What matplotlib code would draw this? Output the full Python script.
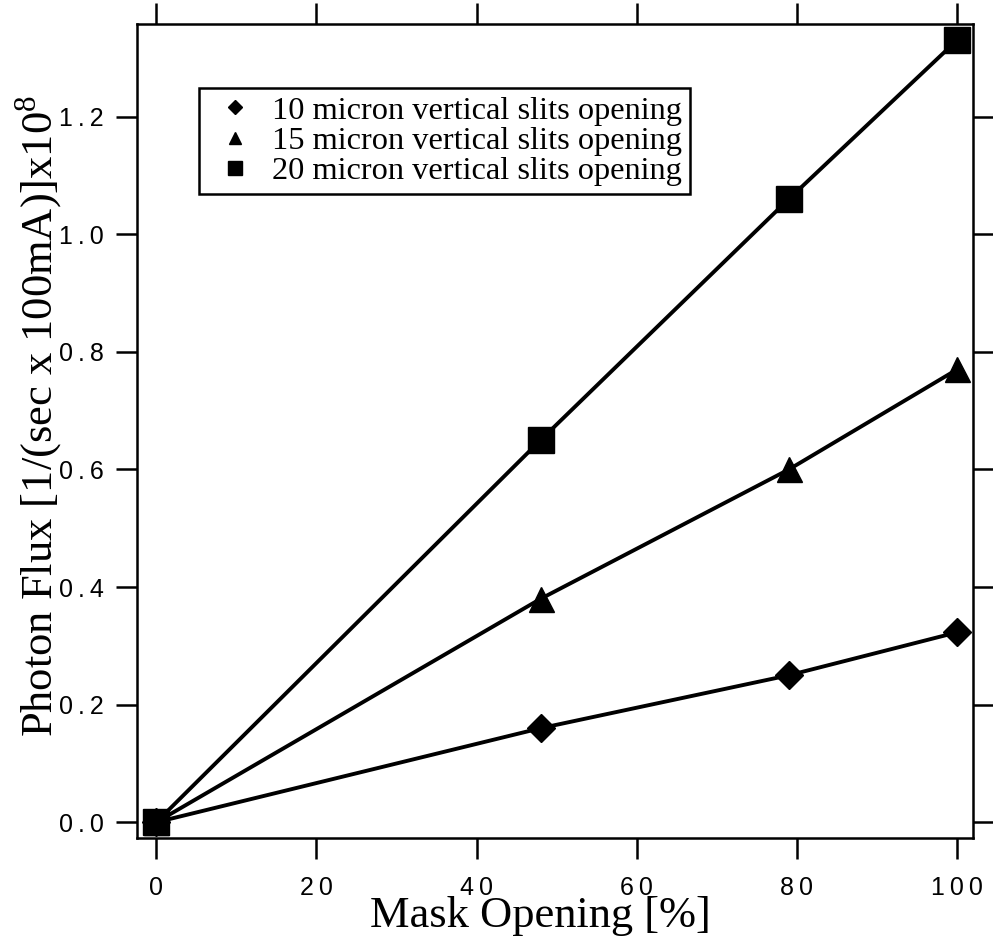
import matplotlib
matplotlib.use("Agg")
import matplotlib.pyplot as plt
from matplotlib.ticker import FuncFormatter

# mask opening in percent, flux in units of 1e8 photons/(sec x 100mA)
opening = [0, 48, 79, 100]
flux10 = [0.0, 0.16, 0.25, 0.323]
flux15 = [0.0, 0.38, 0.60, 0.77]
flux20 = [0.0, 0.65, 1.06, 1.33]
labels = ["10 micron vertical slits opening",
          "15 micron vertical slits opening",
          "20 micron vertical slits opening"]

xticks = [0, 20, 40, 60, 80, 100]
yticks = [0.0, 0.2, 0.4, 0.6, 0.8, 1.0, 1.2]

plt.rcParams['mathtext.fontset'] = 'custom'
plt.rcParams['mathtext.rm'] = 'Liberation Serif'
serif = ['Liberation Serif', 'DejaVu Serif']
sans = ['Liberation Sans', 'DejaVu Sans']

fig = plt.figure(figsize=(9.93, 9.46), dpi=100)
ax = fig.add_axes([0.138, 0.114, 0.842, 0.861])

ax.plot(opening, flux10, color='black', lw=2.8, marker='D', ms=14, label=labels[0])
ax.plot(opening, flux15, color='black', lw=2.8, marker='^', ms=18, label=labels[1])
ax.plot(opening, flux20, color='black', lw=2.8, marker='s', ms=19, label=labels[2])

ax.set_xlim(-2.4, 102.0)
ax.set_ylim(-0.027, 1.358)
ax.set_xticks(xticks)
ax.set_yticks(yticks)

def spaced(fmt):
    return FuncFormatter(lambda v, p: "\u2009".join(fmt.format(v)))

ax.xaxis.set_major_formatter(spaced("{:.0f}"))
ax.yaxis.set_major_formatter(spaced("{:.1f}"))

for s in ax.spines.values():
    s.set_linewidth(1.8)
ax.tick_params(which='major', direction='out', length=15, width=1.8,
               top=True, right=True, labeltop=False, labelright=False, labelsize=18)
ax.tick_params(axis='x', pad=12)
ax.tick_params(axis='y', pad=9)
for t in ax.get_xticklabels() + ax.get_yticklabels():
    t.set_fontfamily(sans)

ax.set_xlabel("Mask Opening [%]", fontfamily=serif, fontsize=32)
ax.xaxis.set_label_coords(0.483, -0.071)
ax.set_ylabel(r"Photon Flux [1/(sec x 100mA)]x10$^8$", fontfamily=serif, fontsize=32)
ax.yaxis.set_label_coords(-0.086, 0.518)

leg = ax.legend(loc='upper left', bbox_to_anchor=(0.074, 0.921), frameon=True,
                fancybox=False, edgecolor='black', framealpha=1,
                prop={'family': serif, 'size': 23.3}, markerscale=0.5,
                handlelength=1.75, handletextpad=0.25, labelspacing=0.02,
                borderpad=0.25, borderaxespad=0)
leg.get_frame().set_linewidth(1.8)
for h in leg.get_lines():
    h.set_linestyle('none')

fig.savefig("out.png", dpi=100)
